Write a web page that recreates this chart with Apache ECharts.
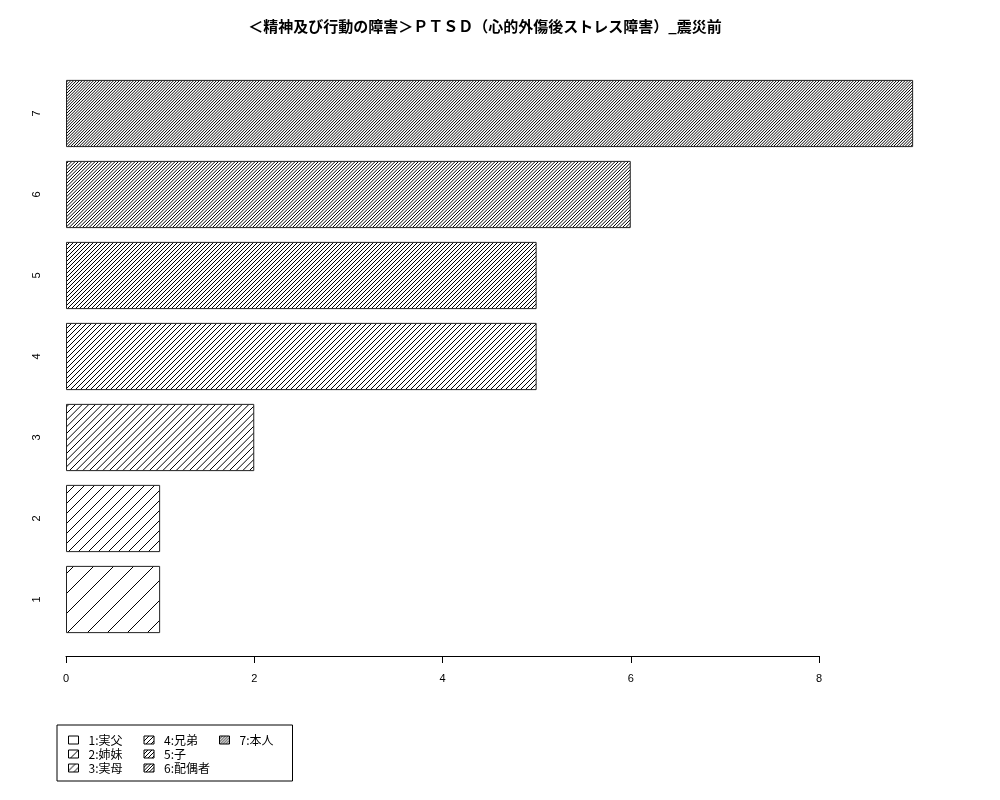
<!DOCTYPE html>
<html>
<head>
<meta charset="utf-8">
<script src="https://cdn.jsdelivr.net/npm/echarts@6/dist/echarts.min.js"></script>
<style>
  html, body { margin: 0; padding: 0; background: #fff; }
  #chart { width: 1000px; height: 800px; }
</style>
</head>
<body>
<div id="chart"></div>
<script>
var titleText = "＜精神及び行動の障害＞ＰＴＳＤ（心的外傷後ストレス障害）_震災前";
var categories = ["1", "2", "3", "4", "5", "6", "7"];
var values = [1, 1, 2, 5, 5, 6, 9];
var legendNames = ["1:実父", "2:姉妹", "3:実母", "4:兄弟", "5:子", "6:配偶者", "7:本人"];
var xTicks = [0, 2, 4, 6, 8];

// diagonal hatch tile, n lines per 60px tile
function hatch(n) {
  var S = 60;
  var c = document.createElement("canvas");
  c.width = S;
  c.height = S;
  var g = c.getContext("2d");
  g.strokeStyle = "#000";
  g.lineWidth = 1;
  var step = S / n;
  for (var k = -1; k <= 2 * n + 1; k++) {
    var d = k * step;
    g.beginPath();
    g.moveTo(d + 5, -5);
    g.lineTo(d - S - 5, S + 5);
    g.stroke();
  }
  return c;
}

var font = "'Noto Sans CJK JP', 'Liberation Sans', sans-serif";

var series = categories.map(function (cat, i) {
  return {
    name: legendNames[i],
    type: "bar",
    stack: "all",
    clip: false,
    barCategoryGap: "17%",
    data: categories.map(function (c, j) { return j === i ? values[j] : null; }),
    itemStyle: {
      color: { image: hatch(3 * (i + 1)), repeat: "repeat" },
      borderColor: "#222",
      borderWidth: 1
    }
  };
});

var chart = echarts.init(document.getElementById("chart"), null, { renderer: "canvas" });
chart.setOption({
  animation: false,
  title: {
    text: titleText,
    left: 485,
    textAlign: "center",
    top: 19,
    padding: 0,
    textStyle: { fontFamily: font, fontSize: 15, fontWeight: "bold", color: "#000" }
  },
  grid: { left: 66, width: 753, top: 73, height: 567 },
  xAxis: {
    type: "value",
    min: xTicks[0],
    max: xTicks[xTicks.length - 1],
    interval: xTicks[1] - xTicks[0],
    offset: 16,
    splitLine: { show: false },
    axisLine: { show: true, lineStyle: { color: "#000", width: 1 } },
    axisTick: { show: true, length: 7, lineStyle: { color: "#000" } },
    axisLabel: { color: "#000", fontSize: 11, margin: 17, fontFamily: "'Liberation Sans', sans-serif" }
  },
  yAxis: {
    type: "category",
    data: categories,
    axisLine: { show: false },
    axisTick: { show: false },
    axisLabel: { color: "#000", fontSize: 11, rotate: 90, margin: 24, fontFamily: "'Liberation Sans', sans-serif" }
  },
  legend: {
    orient: "vertical",
    left: 57,
    top: 725,
    height: 43,
    itemWidth: 10,
    itemHeight: 8,
    itemGap: 2,
    itemStyle: { borderColor: "#000", borderWidth: 1 },
    selectedMode: false,
    icon: "rect",
    borderColor: "#000",
    borderWidth: 1,
    padding: [9, 0, 7, 11],
    formatter: "{t|{name}}",
    textStyle: {
      fontFamily: font, fontSize: 12, color: "#000",
      rich: { t: { width: 53, padding: [0, 0, 0, 5], lineHeight: 12, fontFamily: font, fontSize: 12, color: "#000" } }
    },
    data: legendNames
  },
  series: series
});
</script>
</body>
</html>
